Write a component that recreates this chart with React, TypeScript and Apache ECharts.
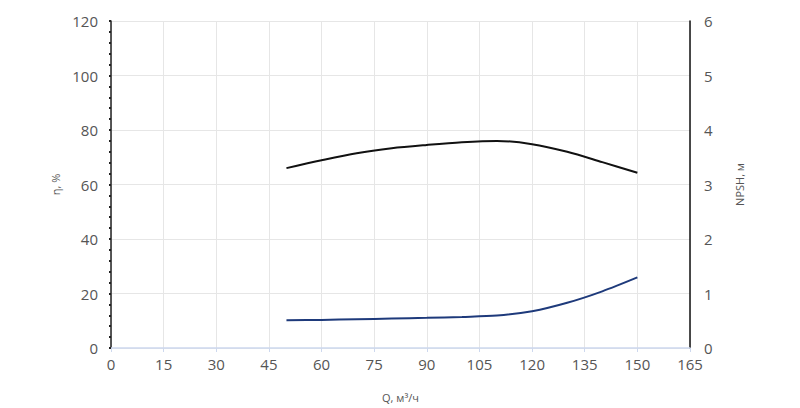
import React, { useEffect, useRef } from "react";
import * as echarts from "echarts";

const flowQ = [50, 60, 70, 80, 90, 100, 110, 120, 130, 140, 150];
const efficiency = [66.0, 68.9, 71.5, 73.3, 74.5, 75.5, 76.0, 74.8, 72.0, 68.2, 64.3];
const npsh = [0.51, 0.516, 0.528, 0.54, 0.553, 0.57, 0.595, 0.675, 0.83, 1.04, 1.295];

const font = "'Open Sans', sans-serif";
const labelColor = "#555555";

export default function App() {
  const ref = useRef<HTMLDivElement>(null);
  useEffect(() => {
    if (!ref.current) return;
    const chart = echarts.init(ref.current, null, { renderer: "svg" });
    chart.setOption({
      animation: false,
      grid: { left: 111, right: 110, top: 21, bottom: 55.5, containLabel: false },
      xAxis: {
        type: "value",
        min: 0,
        max: 165,
        interval: 15,
        name: "Q, м³/ч",
        nameLocation: "middle",
        nameGap: 44,
        nameTextStyle: { fontFamily: font, fontSize: 11, color: labelColor },
        axisLine: { show: true, lineStyle: { color: "#cdd8ee", width: 1.5 } },
        axisTick: { show: true, length: 4, lineStyle: { color: "#cdd8ee" } },
        axisLabel: { fontFamily: font, fontSize: 15, color: labelColor, margin: 8 },
        splitLine: { show: true, lineStyle: { color: "#e6e6e6", width: 1 } },
      },
      yAxis: [
        {
          type: "value",
          min: 0,
          max: 120,
          interval: 20,
          name: "η, %",
          nameLocation: "middle",
          nameGap: 47,
          nameTextStyle: { fontFamily: font, fontSize: 11, color: labelColor },
          axisLine: { show: true, lineStyle: { color: "#222", width: 1.5 } },
          axisTick: { show: true, length: 2, inside: false, lineStyle: { color: "#222", width: 2 } },
          minorTick: { show: true, splitNumber: 5, length: 2, lineStyle: { color: "#222", width: 2 } },
          axisLabel: { fontFamily: font, fontSize: 15, color: labelColor, margin: 13, padding: [0, 0, 4, 0] },
          splitLine: { show: true, lineStyle: { color: "#e6e6e6", width: 1 } },
        },
        {
          type: "value",
          min: 0,
          max: 6,
          interval: 1,
          name: "NPSH, м",
          nameLocation: "middle",
          nameGap: 44,
          nameTextStyle: { fontFamily: font, fontSize: 11, color: labelColor },
          axisLine: { show: true, lineStyle: { color: "#111", width: 1.5 } },
          axisTick: { show: false },
          axisLabel: { fontFamily: font, fontSize: 15, color: labelColor, margin: 14, padding: [0, 0, 4, 0] },
          splitLine: { show: false },
        },
      ],
      series: [
        {
          type: "line",
          name: "η",
          yAxisIndex: 0,
          data: flowQ.map((q, i) => [q, efficiency[i]]),
          smooth: 0.3,
          showSymbol: false,
          lineStyle: { color: "#111", width: 2 },
        },
        {
          type: "line",
          name: "NPSH",
          yAxisIndex: 1,
          data: flowQ.map((q, i) => [q, npsh[i]]),
          smooth: 0.3,
          showSymbol: false,
          lineStyle: { color: "#1e3a7b", width: 2 },
        },
      ],
    });
    return () => chart.dispose();
  }, []);
  return (
    <div
      ref={ref}
      style={{ position: "fixed", left: 0, top: 0, width: 800, height: 408, background: "#fff" }}
    />
  );
}
